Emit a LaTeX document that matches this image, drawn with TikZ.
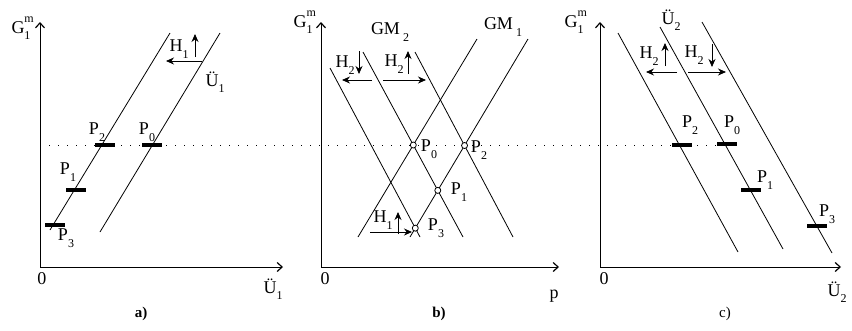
\documentclass[tikz,border=0pt]{standalone}
\usepackage{fontspec}
\setmainfont{Liberation Serif}
\usetikzlibrary{arrows.meta, positioning}

\newcommand{\lowix}[1]{\raisebox{-0.36em}{\fontsize{12}{12}\selectfont #1}}
\newcommand{\Gm}{G\rlap{\raisebox{0.62em}{\fontsize{12}{12}\selectfont m}}\lowix{1}}

\begin{document}
\begin{tikzpicture}[
  x=1pt, y=-1pt,
  lab/.style={font=\fontsize{18}{20}\selectfont, inner sep=0pt},
  axisarr/.style={-{Straight Barb[length=5pt, width=9pt, line width=1.2pt]}, line width=1pt},
  gline/.style={line width=0.8pt},
  guide/.style={line width=0.9pt, dash pattern=on 1pt off 8pt},
  pbar/.style={fill=black, inner sep=0pt, minimum width=20pt, minimum height=3.5pt},
  ring/.style={circle, draw, fill=white, inner sep=0pt, minimum size=6pt, line width=0.8pt},
  move/.style={-{Stealth[length=8pt, width=7pt]}, line width=0.8pt}
]
  \useasboundingbox (0,0) rectangle (852,330);

  % common level line
  \coordinate (lvlL) at (40,145);
  \coordinate (lvlR) at (718,145);
  \draw[guide] (lvlL) -- (lvlR);

  % ---------- a) ----------
  \coordinate (aO) at (40,267);
  \coordinate (aY) at (40,22);
  \coordinate (aX) at (283,267);
  \draw[axisarr] (aO) -- (aY);
  \draw[axisarr] (aO) -- (aX);
  \node[lab] (aYlab) at (21,28) {\Gm};
  \node[lab] (aOlab) at (42,279) {0};
  \node[lab] (aXlab) at (273,289) {Ü\lowix{1}};
  \node[lab, font=\fontsize{15}{17}\selectfont\bfseries] (acap) at (141,314) {a)};

  \coordinate (a1s) at (50,230);  \coordinate (a1e) at (170,33);
  \coordinate (a2s) at (100,232); \coordinate (a2e) at (220,33);
  \draw[gline] (a1s) -- (a1e);
  \draw[gline] (a2s) -- (a2e);
  \node[lab] (aU1) at (215,82) {Ü\lowix{1}};

  \node[pbar] (aP0) at (152,145) {};
  \node[pbar] (aP1) at (76,190) {};
  \node[pbar] (aP2) at (105,145) {};
  \node[pbar] (aP3) at (55,225) {};
  \node[lab] (aP0lab) at (147,132) {P\lowix{0}};
  \node[lab] (aP1lab) at (68,172) {P\lowix{1}};
  \node[lab] (aP2lab) at (97,132) {P\lowix{2}};
  \node[lab] (aP3lab) at (66,238) {P\lowix{3}};

  \node[lab] (aH1) at (179,49) {H\lowix{1}};
  \coordinate (aH1u0) at (195,57); \coordinate (aH1u1) at (195,34);
  \coordinate (aH1l0) at (202,61); \coordinate (aH1l1) at (166,61);
  \draw[move] (aH1u0) -- (aH1u1);
  \draw[move] (aH1l0) -- (aH1l1);

  % ---------- b) ----------
  \coordinate (bO) at (321,267);
  \coordinate (bY) at (321,22);
  \coordinate (bX) at (559,267);
  \draw[axisarr] (bO) -- (bY);
  \draw[axisarr] (bO) -- (bX);
  \node[lab] (bYlab) at (303,22) {\Gm};
  \node[lab] (bOlab) at (325,279) {0};
  \node[lab] (bXlab) at (554,296) {p};
  \node[lab, font=\fontsize{15}{17}\selectfont\bfseries] (bcap) at (439,314) {b)};

  \coordinate (b1s) at (330,68);  \coordinate (b1e) at (420,237);
  \coordinate (b2s) at (363,52);  \coordinate (b2e) at (463,237);
  \coordinate (b3s) at (415,52);  \coordinate (b3e) at (513,237);
  \coordinate (b4s) at (358,237); \coordinate (b4e) at (477,39);
  \coordinate (b5s) at (410,237); \coordinate (b5e) at (528,39);
  \foreach \i in {1,...,5}
    \draw[gline] (b\i s) -- (b\i e);
  \node[lab] (bGM2) at (390,32) {GM\,\lowix{2}};
  \node[lab] (bGM1) at (503,27) {GM\,\lowix{1}};

  \node[ring] (bP0) at (intersection of b2s--b2e and b4s--b4e) {};
  \node[ring] (bP1) at (intersection of b2s--b2e and b5s--b5e) {};
  \node[ring] (bP2) at (intersection of b3s--b3e and b5s--b5e) {};
  \node[ring] (bP3) at (intersection of b1s--b1e and b5s--b5e) {};
  \node[lab] (bP0lab) at (429,149) {P\lowix{0}};
  \node[lab] (bP1lab) at (459,192) {P\lowix{1}};
  \node[lab] (bP2lab) at (479,150) {P\lowix{2}};
  \node[lab] (bP3lab) at (436,228) {P\lowix{3}};

  \node[lab] (bH2a) at (345,65) {H\lowix{2}};
  \coordinate (bH2ad0) at (359,51); \coordinate (bH2ad1) at (359,74);
  \coordinate (bH2al0) at (372,80); \coordinate (bH2al1) at (342,80);
  \draw[move] (bH2ad0) -- (bH2ad1);
  \draw[move] (bH2al0) -- (bH2al1);

  \node[lab] (bH2b) at (394,64) {H\lowix{2}};
  \coordinate (bH2bu0) at (408,74); \coordinate (bH2bu1) at (408,51);
  \coordinate (bH2br0) at (383,80); \coordinate (bH2br1) at (426,80);
  \draw[move] (bH2bu0) -- (bH2bu1);
  \draw[move] (bH2br0) -- (bH2br1);

  \node[lab] (bH1) at (383,220) {H\lowix{1}};
  \coordinate (bH1u0) at (398,234); \coordinate (bH1u1) at (398,212);
  \coordinate (bH1r0) at (370,232); \coordinate (bH1r1) at (412,232);
  \draw[move] (bH1u0) -- (bH1u1);
  \draw[move] (bH1r0) -- (bH1r1);

  % ---------- c) ----------
  \coordinate (cO) at (600,267);
  \coordinate (cY) at (600,22);
  \coordinate (cX) at (841,267);
  \draw[axisarr] (cO) -- (cY);
  \draw[axisarr] (cO) -- (cX);
  \node[lab] (cYlab) at (574,22) {\Gm};
  \node[lab] (cOlab) at (604,279) {0};
  \node[lab] (cXlab) at (837,292) {Ü\lowix{2}};
  \node[lab, font=\fontsize{15}{17}\selectfont] (ccap) at (725,314) {c)};

  \coordinate (c1s) at (618,33); \coordinate (c1e) at (738,252);
  \coordinate (c2s) at (660,27); \coordinate (c2e) at (783,249);
  \coordinate (c3s) at (702,22); \coordinate (c3e) at (832,253);
  \foreach \i in {1,2,3}
    \draw[gline] (c\i s) -- (c\i e);
  \node[lab] (cU2) at (671,20) {Ü\lowix{2}};

  \node[pbar] (cP0) at (727,144) {};
  \node[pbar] (cP1) at (751,190) {};
  \node[pbar] (cP2) at (682,145) {};
  \node[pbar] (cP3) at (817,226) {};
  \node[lab] (cP0lab) at (732,125) {P\lowix{0}};
  \node[lab] (cP1lab) at (765,180) {P\lowix{1}};
  \node[lab] (cP2lab) at (690,125) {P\lowix{2}};
  \node[lab] (cP3lab) at (827,214) {P\lowix{3}};

  \node[lab] (cH2a) at (649,56) {H\lowix{2}};
  \coordinate (cH2au0) at (665,66); \coordinate (cH2au1) at (665,43);
  \coordinate (cH2al0) at (677,72); \coordinate (cH2al1) at (646,72);
  \draw[move] (cH2au0) -- (cH2au1);
  \draw[move] (cH2al0) -- (cH2al1);

  \node[lab] (cH2b) at (694,55) {H\lowix{2}};
  \coordinate (cH2bd0) at (712,44); \coordinate (cH2bd1) at (712,67);
  \coordinate (cH2br0) at (688,72); \coordinate (cH2br1) at (726,72);
  \draw[move] (cH2bd0) -- (cH2bd1);
  \draw[move] (cH2br0) -- (cH2br1);
\end{tikzpicture}
\end{document}
